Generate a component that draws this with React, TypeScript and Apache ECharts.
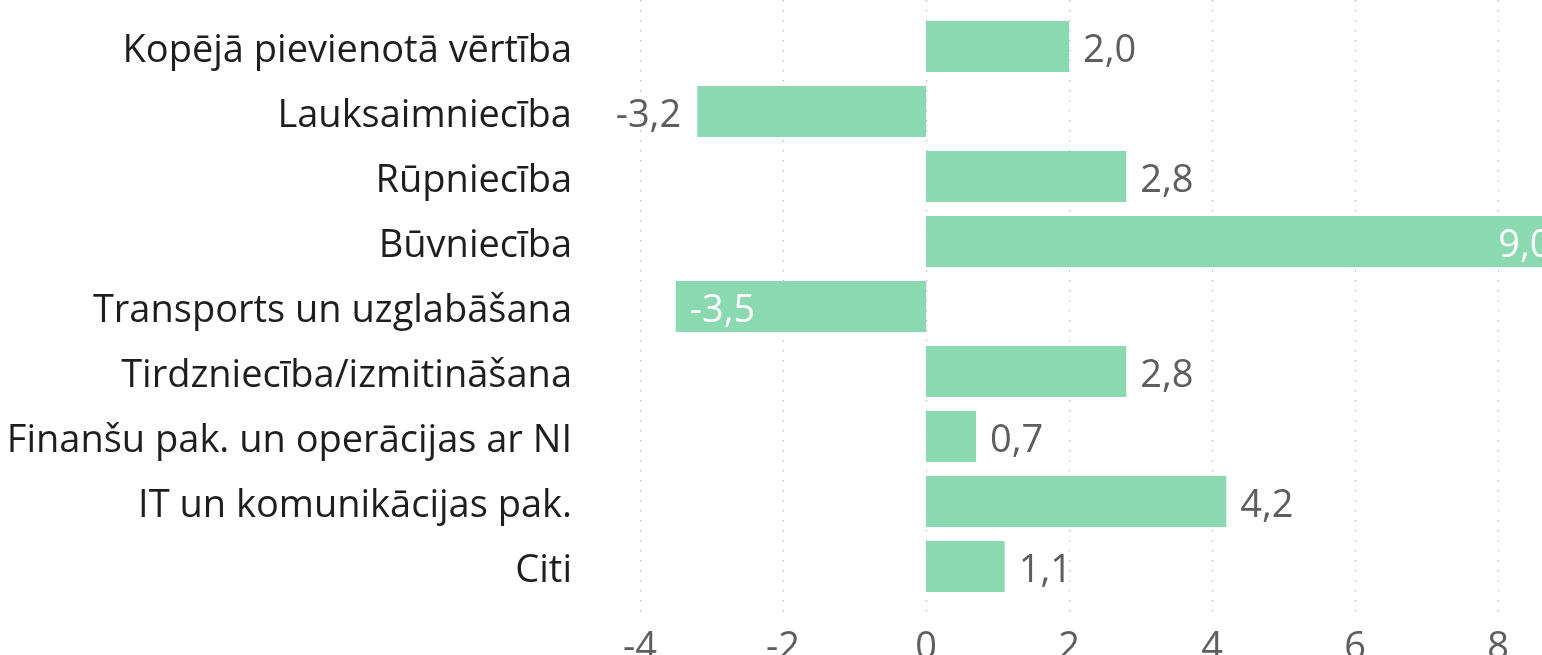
import React, { useEffect, useRef } from "react";
import * as echarts from "echarts";

const categories = [
  "Kopējā pievienotā vērtība",
  "Lauksaimniecība",
  "Rūpniecība",
  "Būvniecība",
  "Transports un uzglabāšana",
  "Tirdzniecība/izmitināšana",
  "Finanšu pak. un operācijas ar NI",
  "IT un komunikācijas pak.",
  "Citi",
];
const values = [2.0, -3.2, 2.8, 9.0, -3.5, 2.8, 0.7, 4.2, 1.1];
const xTicks = { min: -4, max: 10, interval: 2 };

const FONT = "'Open Sans', 'Noto Sans', sans-serif";
const BAR = "#8AD9B1";
const GRAY = "#605E5C";

export default function App() {
  const ref = useRef<HTMLDivElement>(null);
  useEffect(() => {
    if (!ref.current) return;
    const chart = echarts.init(ref.current, undefined, { renderer: "svg" });
    const fmt = (v: number) => v.toFixed(1).replace(".", ",");
    const data = values.map((v) => {
      let label: any = { position: "right", distance: 14, color: GRAY };
      if (v === 9.0) label = { position: "insideRight", distance: 18, color: "#ffffff" };
      else if (v === -3.5) label = { position: "insideLeft", distance: 14, color: "#ffffff" };
      else if (v < 0) label = { position: "left", distance: 16, color: GRAY };
      return { value: v, label };
    });
    chart.setOption({
      animation: false,
      textStyle: { fontFamily: FONT },
      grid: [
        { left: 640, width: 1001, top: -10, height: 630, outerBoundsMode: "none", containLabel: false },
        { left: 640, width: 1001, top: 14, height: 585, outerBoundsMode: "none", containLabel: false },
      ],
      xAxis: [
        {
          gridIndex: 0,
          type: "value",
          min: xTicks.min,
          max: xTicks.max,
          interval: xTicks.interval,
          axisLine: { show: false },
          axisTick: { show: false },
          axisLabel: { fontSize: 38, color: GRAY, margin: 5, fontFamily: FONT },
          splitLine: { show: true, lineStyle: { color: "#BDBDBD", width: 1.3, type: [1.5, 8.5] } },
        },
        {
          gridIndex: 1,
          type: "value",
          min: xTicks.min,
          max: xTicks.max,
          interval: xTicks.interval,
          show: false,
          splitLine: { show: false },
        },
      ],
      yAxis: [
        {
          gridIndex: 0,
          type: "category",
          data: categories,
          show: false,
        },
        {
          gridIndex: 1,
          type: "category",
          data: categories,
          inverse: true,
          axisLine: { show: false },
          axisTick: { show: false },
          axisLabel: { fontSize: 38, color: "#1F1E1D", margin: 68, fontFamily: FONT },
        },
      ],
      series: [
        {
          type: "bar",
          xAxisIndex: 1,
          yAxisIndex: 1,
          data,
          barWidth: 51,
          itemStyle: { color: BAR },
          label: {
            show: true,
            fontSize: 38,
            fontFamily: FONT,
            formatter: (p: any) => fmt(p.value),
          },
        },
      ],
    });
    return () => chart.dispose();
  }, []);
  return (
    <div
      ref={ref}
      style={{ position: "fixed", left: 0, top: 0, width: 1542, height: 655, overflow: "hidden" }}
    />
  );
}
